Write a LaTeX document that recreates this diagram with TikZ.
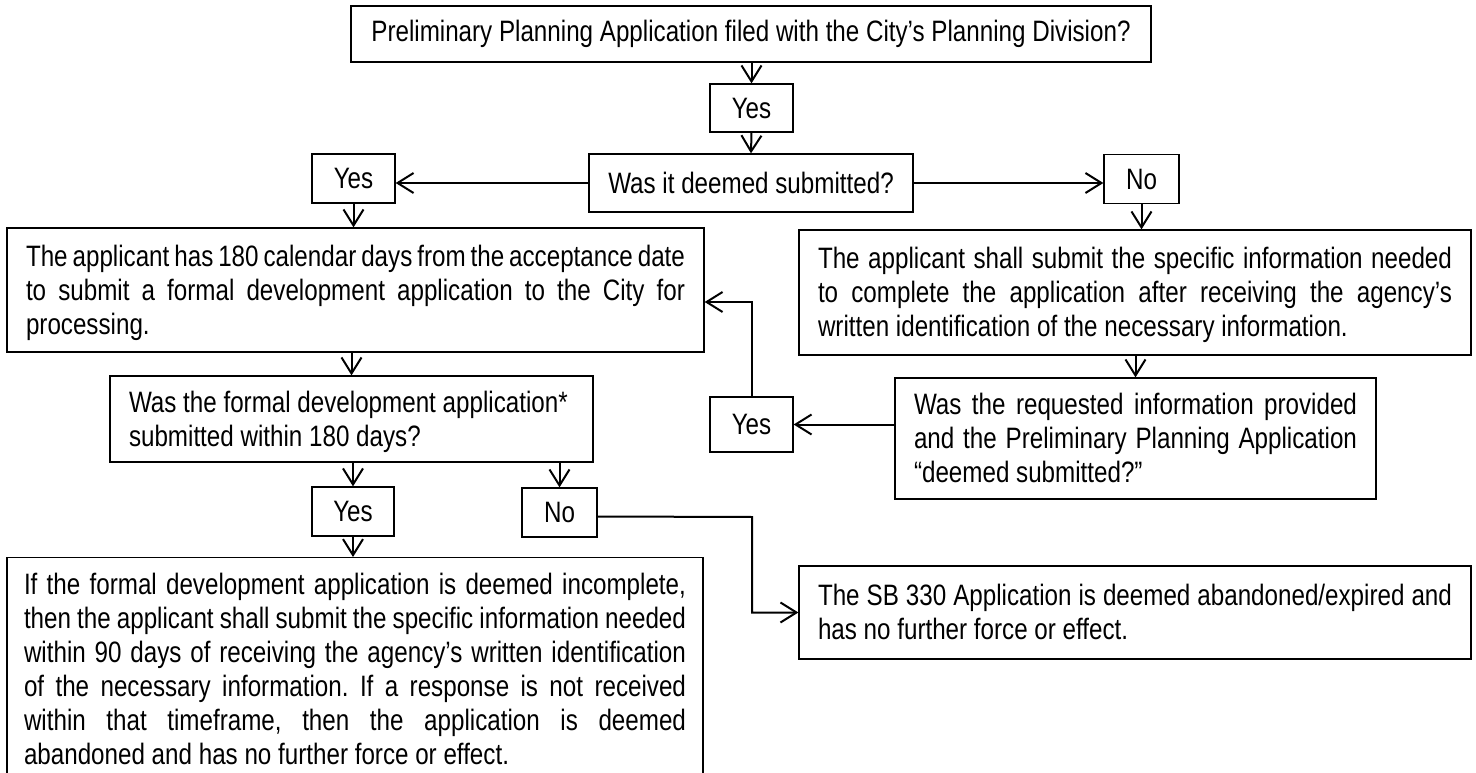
\documentclass[tikz,border=0pt]{standalone}
\usepackage{fontspec}
\setmainfont[FakeStretch=0.82]{Liberation Sans}
\usetikzlibrary{arrows.meta,calc}
\newcommand{\jl}[1]{\makebox[\hsize][s]{#1}\\}
\newcommand{\nl}[1]{\mbox{#1}}
\newcommand{\fs}{\rule[-7pt]{0pt}{34pt}}
\begin{document}
\begin{tikzpicture}[x=1pt,y=-1pt,
  every node/.style={execute at begin node={\frenchspacing\spaceskip=0pt\xspaceskip=0pt\hyphenpenalty=10000\relax}},
  bx/.style={draw,line width=1.3pt,inner xsep=19pt,inner ysep=0pt,align=left,font=\fontsize{29.5}{34}\selectfont},
  lb/.style={draw,line width=1.3pt,inner sep=0pt,font=\fontsize{29.5}{34}\selectfont,minimum height=49pt},
  arr/.style={line width=2pt,-{Straight Barb[length=16pt,width=20pt]}}]
\useasboundingbox (0,0) rectangle (1476,773);
\fill[white] (0,0) rectangle (1476,773);
% nodes
\node[bx,align=center,inner xsep=0pt,minimum width=800pt,minimum height=56pt] (top) at (751,34) {Preliminary Planning Application filed with the City’s Planning Division?};
\node[lb,minimum width=83pt,minimum height=48pt] (yes1) at (751.5,108) {Yes};
\node[bx,align=center,inner xsep=0pt,minimum width=324pt,minimum height=58pt] (deemed) at (751,183) {Was it deemed submitted?};
\node[lb,minimum width=83pt] (yesL) at (353.5,178.5) {Yes};
\node[lb,minimum width=75pt] (noR) at (1141.5,179) {No};
\node[bx,text width=659pt,minimum height=124pt] (lbox) at (355.5,290) {\jl{\fs The applicant has 180 calendar days from the acceptance date}\jl{to submit a formal development application to the City for}\nl{\fs processing.}};
\node[bx,text width=634pt,minimum height=125pt] (rbox) at (1135,292.5) {\jl{\fs The applicant shall submit the specific information needed}\jl{to complete the application after receiving the agency’s}\nl{\fs written identification of the necessary information.}};
\node[lb,minimum width=83pt,minimum height=55pt] (yesM) at (751.5,424.5) {Yes};
\node[bx,text width=443pt,minimum height=121pt] (req) at (1135.5,438.5) {\jl{\fs Was the requested information provided}\jl{and the Preliminary Planning Application}\nl{\fs “deemed submitted?”}};
\node[bx,text width=445pt,minimum height=86pt] (formal) at (351.5,419) {\nl{\fs Was the formal development application*}\\\nl{\fs submitted within 180 days?}};
\node[lb,minimum width=82pt] (yesB) at (353,511.5) {Yes};
\node[lb,minimum width=75pt] (noB) at (559.5,512.5) {No};
\node[bx,text width=662pt,inner xsep=17pt,inner ysep=10pt,anchor=north] (blbox) at (355,557) {\jl{\fs If the formal development application is deemed incomplete,}\jl{then the applicant shall submit the specific information needed}\jl{within 90 days of receiving the agency’s written identification}\jl{of the necessary information. If a response is not received}\jl{within that timeframe, then the application is deemed}\nl{\fs abandoned and has no further force or effect.}};
\node[bx,text width=634pt,minimum height=93pt] (sb) at (1135,612.5) {\jl{\fs The SB 330 Application is deemed abandoned/expired and}\nl{\fs has no further force or effect.}};
% connectors
\coordinate (lbin) at ($(lbox.east)+(0,12)$);
\coordinate (nbout) at ($(noB.east)+(0,4)$);
\coordinate (nbturn) at (752,517);
\draw[arr] (yes1.north |- top.south) -- (yes1.north);
\draw[arr] (yes1.south) -- (deemed.north);
\draw[arr] (deemed.west) -- (deemed.west -| yesL.east);
\draw[arr] (deemed.east) -- (deemed.east -| noR.west);
\draw[arr] (yesL.south) -- (yesL.south |- lbox.north);
\draw[arr] (noR.south) -- (noR.south |- rbox.north);
\draw[arr] (formal.north |- lbox.south) -- (formal.north);
\draw[arr] (req.north |- rbox.south) -- (req.north);
\draw[arr] (yesM.east -| req.west) -- (yesM.east);
\draw[arr] (yesM.north) |- (lbin);
\draw[arr] (yesB.north |- formal.south) -- (yesB.north);
\draw[arr] (noB.north |- formal.south) -- (noB.north);
\draw[arr] (yesB.south) -- (yesB.south |- blbox.north);
\draw[arr] (nbout) -- (nbturn) |- (sb.west);
\end{tikzpicture}
\end{document}
